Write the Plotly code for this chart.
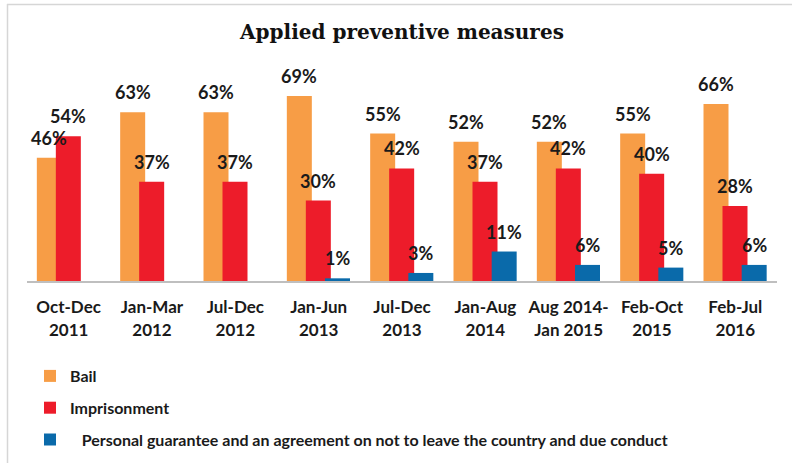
import plotly.graph_objects as go

categories = ["Oct-Dec<br>2011", "Jan-Mar<br>2012", "Jul-Dec<br>2012", "Jan-Jun<br>2013",
              "Jul-Dec<br>2013", "Jan-Aug<br>2014", "Aug 2014-<br>Jan 2015", "Feb-Oct<br>2015",
              "Feb-Jul<br>2016"]
bail = [46, 63, 63, 69, 55, 52, 52, 55, 66]
imprisonment = [54, 37, 37, 30, 42, 37, 42, 40, 28]
guarantee = [None, None, None, 1, 3, 11, 6, 5, 6]

series_names = ["Bail", "Imprisonment",
                "\u00a0\u00a0\u00a0Personal guarantee and an agreement on not to leave the country and due conduct"]
colors = ["#F79D46", "#ED1C2A", "#0A6AAA"]
offsets = [-0.382, -0.154, 0.076]
bar_w = 0.3

W, H = 792, 463
ml, mr, mt, mb = 27, 15, 66, 182
plot_h = H - mt - mb
plot_w = W - ml - mr

fig = go.Figure()
xs = list(range(len(categories)))
annotations = []
for name, vals, col, off in zip(series_names, [bail, imprisonment, guarantee], colors, offsets):
    fig.add_trace(go.Bar(
        x=xs, y=vals, name=name, marker=dict(color=col, line=dict(width=0)),
        width=bar_w, offset=off, legendgroup=name, hoverinfo="skip",
    ))
    for xi, v in zip(xs, vals):
        if v is None:
            continue
        annotations.append(dict(
            x=xi + off + bar_w / 2, y=v, xref="x", yref="y",
            text=f"<b>{v}%</b>", showarrow=False, yanchor="middle", yshift=20,
            font=dict(family="Lato", size=18, color="#1a1a1a"),
        ))

def px_to_paper_x(px):
    return (px - ml) / plot_w

def px_to_paper_y(py):
    return (H - mb - py) / plot_h

shapes = [
    dict(type="line", xref="paper", yref="paper",
         x0=px_to_paper_x(7), x1=px_to_paper_x(792), y0=px_to_paper_y(4.5), y1=px_to_paper_y(4.5),
         line=dict(color="#D6D6D6", width=1.5)),
    dict(type="line", xref="paper", yref="paper",
         x0=px_to_paper_x(7.5), x1=px_to_paper_x(7.5), y0=px_to_paper_y(4), y1=px_to_paper_y(463),
         line=dict(color="#D6D6D6", width=1.5)),
]

fig.update_layout(
    width=W, height=H,
    margin=dict(l=ml, r=mr, t=mt, b=mb, autoexpand=False),
    paper_bgcolor="white", plot_bgcolor="white",
    barmode="overlay",
    title=dict(text="<b>Applied preventive measures</b>", x=0.5, xref="paper", xanchor="center",
               y=1 - 32 / H, yref="container", yanchor="middle",
               font=dict(family="DejaVu Serif", size=20, color="#111111")),
    xaxis=dict(range=[-0.5, len(categories) - 0.5], tickvals=xs,
               ticktext=[f"<b>{c}</b>" for c in categories],
               tickfont=dict(family="Lato", size=17, color="#1a1a1a"),
               showline=True, linecolor="#BFBFBF", linewidth=2, showgrid=False,
               zeroline=False, ticks="", ticklabelstandoff=10, fixedrange=True,
               automargin=False),
    yaxis=dict(range=[0, plot_h / 2.68], visible=False, showgrid=False, zeroline=False,
               fixedrange=True),
    showlegend=True,
    legend=dict(x=px_to_paper_x(30), xanchor="left", y=px_to_paper_y(359), yanchor="top",
                orientation="v", tracegroupgap=8, itemwidth=30,
                font=dict(family="Lato", size=16, color="#1a1a1a", weight="bold"),
                bgcolor="rgba(0,0,0,0)"),
    annotations=annotations,
    shapes=shapes,
)

fig.write_html("out.html", config={"displayModeBar": False},
               post_script="document.body.style.margin='0';document.body.style.overflow='hidden';")
